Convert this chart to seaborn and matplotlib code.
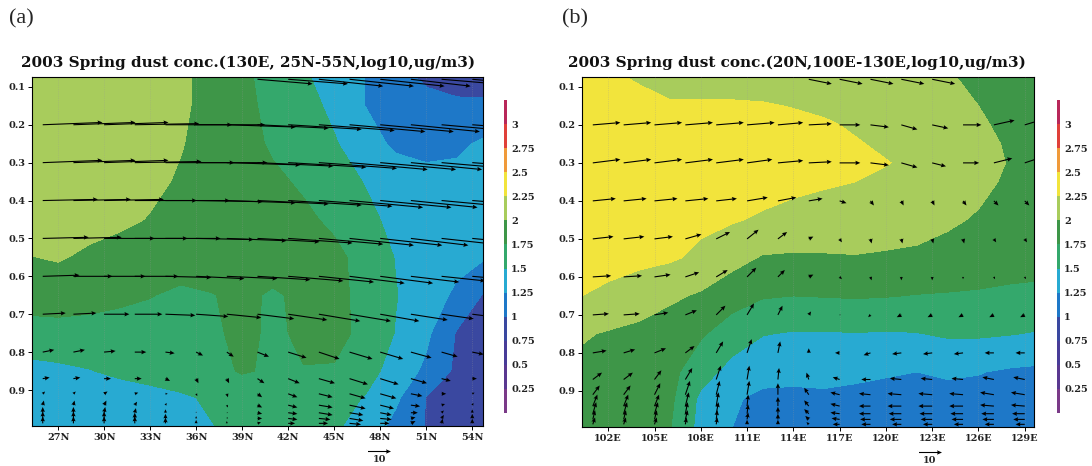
import numpy as np
import matplotlib
matplotlib.use("Agg")
import matplotlib.pyplot as plt
from matplotlib.colors import ListedColormap, BoundaryNorm
import seaborn as sns

sns.set_theme(style="white")
plt.rcParams["font.family"] = ["DejaVu Serif", "DejaVu Sans"]

# ---------------- data ----------------
level_bounds = [0, 0.25, 0.5, 0.75, 1.0, 1.25, 1.5, 1.75, 2.0, 2.25, 2.5, 2.75, 3.0, 3.25]
band_colors = ["#7a3a88", "#5a3890", "#483c98", "#3a48a0", "#1e78c8", "#28aad2",
               "#34a86c", "#3e9648", "#a8cc5c", "#f2e43c", "#f09a3a", "#e0403a", "#b8285a"]
cbar_ticks = [0.25, 0.5, 0.75, 1, 1.25, 1.5, 1.75, 2, 2.25, 2.5, 2.75, 3]
cbar_labels = ["0.25", "0.5", "0.75", "1", "1.25", "1.5", "1.75", "2", "2.25", "2.5", "2.75", "3"]
sigma_ticks = [0.1, 0.2, 0.3, 0.4, 0.5, 0.6, 0.7, 0.8, 0.9]
sigma_ticklabels = ["0.1", "0.2", "0.3", "0.4", "0.5", "0.6", "0.7", "0.8", "0.9"]

title_a = "2003 Spring dust conc.(130E, 25N-55N,log10,ug/m3)"
title_b = "2003 Spring dust conc.(20N,100E-130E,log10,ug/m3)"
lat_ticks = [27, 30, 33, 36, 39, 42, 45, 48, 51, 54]
lat_ticklabels = ["27N", "30N", "33N", "36N", "39N", "42N", "45N", "48N", "51N", "54N"]
lon_ticks = [102, 105, 108, 111, 114, 117, 120, 123, 126, 129]
lon_ticklabels = ["102E", "105E", "108E", "111E", "114E", "117E", "120E", "123E", "126E", "129E"]

# panel (a): concentration (log10 ug/m3) on latitude x sigma grid
lat_a = [25, 27, 29, 31, 33, 35, 37, 39, 41, 43, 45, 47, 49, 51, 53, 55]
sig_a = [0.07, 0.15, 0.25, 0.35, 0.45, 0.55, 0.65, 0.75, 0.85, 0.92, 1.0]
conc_a = [
    [2.15, 2.15, 2.14, 2.12, 2.09, 2.04, 1.93, 1.80, 1.66, 1.53, 1.39, 1.25, 1.08, 0.95, 0.88, 0.85],
    [2.15, 2.15, 2.14, 2.12, 2.08, 2.03, 1.94, 1.81, 1.69, 1.58, 1.45, 1.25, 1.15, 1.08, 1.05, 1.05],
    [2.15, 2.15, 2.13, 2.10, 2.05, 2.01, 1.93, 1.83, 1.72, 1.62, 1.52, 1.37, 1.20, 1.15, 1.20, 1.30],
    [2.15, 2.14, 2.12, 2.08, 2.04, 1.98, 1.92, 1.85, 1.79, 1.72, 1.60, 1.49, 1.40, 1.35, 1.33, 1.35],
    [2.12, 2.10, 2.08, 2.04, 1.99, 1.95, 1.91, 1.87, 1.83, 1.79, 1.71, 1.56, 1.44, 1.38, 1.36, 1.35],
    [1.99, 2.02, 1.96, 1.92, 1.89, 1.88, 1.88, 1.88, 1.87, 1.85, 1.80, 1.68, 1.49, 1.41, 1.33, 1.25],
    [1.85, 1.86, 1.84, 1.80, 1.76, 1.70, 1.74, 1.80, 1.72, 1.80, 1.80, 1.70, 1.51, 1.38, 1.20, 0.95],
    [1.66, 1.67, 1.66, 1.65, 1.64, 1.65, 1.70, 1.82, 1.70, 1.80, 1.82, 1.69, 1.49, 1.30, 0.98, 0.85],
    [1.42, 1.45, 1.49, 1.54, 1.58, 1.62, 1.68, 1.77, 1.72, 1.74, 1.73, 1.60, 1.40, 1.20, 0.95, 0.82],
    [1.35, 1.36, 1.38, 1.40, 1.43, 1.47, 1.53, 1.60, 1.63, 1.63, 1.58, 1.49, 1.30, 0.99, 0.85, 0.80],
    [1.35, 1.36, 1.37, 1.39, 1.42, 1.45, 1.49, 1.55, 1.58, 1.57, 1.53, 1.40, 1.17, 0.99, 0.85, 0.80],
]

# panel (b): concentration on longitude x sigma grid
lon_b = [100, 102, 104, 106, 108, 110, 112, 114, 116, 118, 120, 122, 124, 126, 128, 130]
sig_b = [0.07, 0.15, 0.2, 0.25, 0.3, 0.35, 0.45, 0.55, 0.65, 0.75, 0.85, 0.92, 1.0]
conc_b = [
    [2.32, 2.28, 2.22, 2.17, 2.14, 2.13, 2.12, 2.12, 2.12, 2.11, 2.09, 2.06, 2.02, 1.94, 1.88, 1.85],
    [2.40, 2.37, 2.32, 2.27, 2.28, 2.28, 2.27, 2.24, 2.20, 2.16, 2.13, 2.10, 2.06, 2.00, 1.92, 1.87],
    [2.42, 2.42, 2.40, 2.38, 2.37, 2.36, 2.34, 2.31, 2.28, 2.22, 2.17, 2.13, 2.09, 2.03, 1.95, 1.88],
    [2.42, 2.42, 2.42, 2.41, 2.40, 2.39, 2.37, 2.34, 2.31, 2.27, 2.21, 2.16, 2.11, 2.05, 1.98, 1.90],
    [2.42, 2.42, 2.42, 2.41, 2.40, 2.39, 2.38, 2.35, 2.32, 2.29, 2.26, 2.20, 2.14, 2.07, 1.99, 1.90],
    [2.42, 2.42, 2.41, 2.40, 2.39, 2.37, 2.34, 2.31, 2.28, 2.25, 2.20, 2.15, 2.10, 2.05, 1.97, 1.90],
    [2.42, 2.40, 2.37, 2.33, 2.30, 2.27, 2.22, 2.17, 2.13, 2.10, 2.08, 2.06, 2.03, 1.98, 1.90, 1.85],
    [2.38, 2.35, 2.32, 2.28, 2.20, 2.08, 1.98, 1.97, 1.98, 1.99, 1.98, 1.97, 1.93, 1.89, 1.86, 1.84],
    [2.26, 2.19, 2.10, 2.04, 1.97, 1.86, 1.77, 1.75, 1.76, 1.77, 1.76, 1.74, 1.73, 1.72, 1.70, 1.69],
    [2.03, 1.98, 1.95, 1.88, 1.78, 1.62, 1.51, 1.48, 1.48, 1.49, 1.48, 1.49, 1.53, 1.53, 1.51, 1.48],
    [1.95, 1.92, 1.88, 1.82, 1.60, 1.42, 1.33, 1.31, 1.30, 1.29, 1.27, 1.25, 1.27, 1.26, 1.22, 1.20],
    [1.94, 1.92, 1.88, 1.80, 1.45, 1.28, 1.20, 1.20, 1.22, 1.20, 1.18, 1.18, 1.20, 1.18, 1.17, 1.15],
    [1.92, 1.90, 1.86, 1.76, 1.42, 1.25, 1.18, 1.15, 1.15, 1.15, 1.15, 1.15, 1.15, 1.14, 1.14, 1.12],
]

# wind (m/s; vertical component shown positive upward) on model levels
sig_w = [0.08, 0.2, 0.3, 0.4, 0.5, 0.6, 0.7, 0.8, 0.87, 0.91, 0.94, 0.96, 0.975, 0.988]
nan = np.nan
lat_w_a = [26, 28, 30, 32, 34, 36, 38, 40, 42, 44, 46, 48, 50, 52, 54]
u_a = [
    [nan, nan, nan, nan, nan, nan, nan, 24, 26, 28, 28, 28, 26, 24, 22],
    [26, 27, 28, 28, 29, 30, 30, 31, 32, 33, 33, 32, 30, 28, 26],
    [26, 27, 28, 29, 30, 31, 32, 33, 34, 34, 34, 33, 31, 29, 27],
    [24, 25, 26, 27, 28, 29, 30, 31, 32, 32, 32, 31, 29, 27, 25],
    [20, 21, 22, 23, 24, 25, 26, 27, 28, 28, 28, 27, 25, 23, 21],
    [16, 17, 18, 19, 20, 21, 22, 23, 24, 24, 24, 23, 21, 19, 17],
    [10, 10, 11, 12, 13, 14, 15, 16, 17, 18, 18, 17, 16, 14, 12],
    [5, 5, 5, 5, 4, 3, 3, 5, 8, 9, 10, 10, 9, 7, 5],
    [3, 3, 3, 3, 2, 1, 1, 3, 5, 7, 8, 8, 7, 4, 2],
    [1, 1, 1.5, 1.5, 1, 0.5, 0.5, 2, 4, 6, 7, 7, 5, 2, 1],
    [0.5, 0.5, 1, 1, 0.5, 0, 0.5, 2, 4, 6, 7, 6, 4, 1.5, 0.5],
    [0, 0, 0.5, 0.5, 0, 0, 0.5, 2, 4, 6, 6, 5, 3, 1, 0],
    [0, 0, 0, 0, 0, 0, 0.5, 2, 4, 5, 6, 5, 2, 1, 0],
    [0, 0, 0, 0, 0, 0, 0, 1.5, 3, 4, 5, 4, 2, 0.5, 0],
]
w_a = [
    [nan, nan, nan, nan, nan, nan, nan, -2, -2, -3, -3, -3, -3, -2, -2],
    [1, 1, 1, 0.5, 0, 0, -1, -1.5, -2, -2.5, -3, -3, -3, -2.5, -2],
    [1, 1, 1, 0.5, 0, 0, -1, -1.5, -2, -2.5, -3, -3, -3, -2.5, -2],
    [0.5, 0.5, 0.5, 0, 0, -0.5, -1, -1.5, -2, -2.5, -3, -3, -3, -2.5, -2],
    [0.5, 0.5, 0, 0, 0, -0.5, -1, -1.5, -2, -2.5, -3, -3, -3, -2.5, -2],
    [0.5, 0, 0, 0, -0.5, -1, -1, -1.5, -2, -2.5, -3, -3, -2.5, -2, -1.5],
    [0.5, 0.5, 0, 0, -0.5, -1, -1.5, -2, -2.5, -3, -3, -3, -2.5, -2, -1.5],
    [1, 1, 0.5, 0, -0.5, -1.5, -2, -2, -2.5, -3, -3, -3, -2.5, -2, -1],
    [0.5, 0.5, 0, 0, -1, -2, -2, -2, -2, -2, -2.5, -2.5, -2, -1, 0],
    [1, 1, 1, 0.5, 0, -1, -1.5, -1.5, -1.5, -1.5, -2, -2, -1, 0, 0.5],
    [2, 2, 2, 1.5, 1, 0, -1, -1, -1, -1, -1.5, -1.5, -0.5, 0.5, 1],
    [2.5, 2.5, 2.5, 2, 1.5, 0.5, 0, -0.5, -0.5, -1, -1, -1, 0, 1, 1.5],
    [3, 3, 3, 2.5, 2, 1, 0.5, 0, -0.5, -0.5, -1, -0.5, 0.5, 1.5, 2],
    [3, 3, 3, 3, 2.5, 1.5, 1, 0.5, 0, 0, -0.5, 0, 1, 2, 2],
]
lon_w_b = [101, 103, 105, 107, 109, 111, 113, 115, 117, 119, 121, 123, 125, 127, 129]
u_b = [
    [nan, nan, nan, nan, nan, nan, nan, 10, 10, 10, 10, 10, nan, nan, nan],
    [12, 12, 12, 12, 12, 12, 11, 10, 9, 8, 7, 7, 8, 9, 10],
    [12, 12, 12, 12, 12, 11, 11, 10, 9, 8, 7, 6, 7, 8, 9],
    [10, 10, 10, 10, 9, 9, 8, 6, 3, 1.5, 1, 1, 1.5, 2, 2],
    [9, 9, 8, 7, 6, 5, 4, 2, 1, 0.5, 0.5, 0.5, 0.5, 1, 1],
    [8, 8, 7, 6, 5, 4, 3, 2, 1, 0.5, 0, 0, 0, 0.5, 0.5],
    [7, 7, 6, 5, 4, 3, 2, 1, 0.5, -1, -2, -2, -2, -2, -2],
    [6, 5, 5, 4, 3, 2, 1, 0, -2, -3, -4, -4, -4, -4, -4],
    [4, 4, 3, 3, 2, 1, 0.5, -1, -3, -4, -5, -5, -5, -5, -5],
    [3, 3, 2.5, 2, 1.5, 1, 0, -2, -4, -5, -6, -6, -6, -6, -6],
    [2, 2, 2, 1.5, 1, 0.5, 0, -2, -4, -5, -6, -6, -6, -6, -6],
    [1.5, 1.5, 1.5, 1, 1, 0.5, 0, -2, -4, -5, -5.5, -5.5, -5.5, -5.5, -5.5],
    [1, 1, 1, 1, 0.5, 0.5, 0, -1.5, -3.5, -4.5, -5, -5, -5, -5, -5],
    [1, 1, 1, 0.5, 0.5, 0, 0, -1, -3, -4, -4, -4, -4, -4, -4],
]
w_b = [
    [nan, nan, nan, nan, nan, nan, nan, -2, -2, -2, -2, -2, nan, nan, nan],
    [1, 1, 1, 1, 1, 1, 1, 0.5, 0, -1, -2, -1.5, 0, 2, 3],
    [1.5, 1.5, 1.5, 1.5, 1.5, 1.5, 1, 0.5, 0, -1, -2, -1.5, 0, 2, 3],
    [1, 1, 1, 1, 1, 1.5, 1.5, 1, -1, -2, -2, -2, -2, -2, -2],
    [1, 1, 1, 2, 3, 4, 3, 1, -1.5, -2, -2, -2, -2, -1.5, -1.5],
    [0.5, 0.5, 1, 2, 3, 4, 3, 1, -1, -1.5, -1.5, -1.5, -1, -1, -1],
    [0.5, 0.5, 1, 2, 4, 5, 4, 1.5, 0, -1, -1, -1, -1, -1, -1],
    [1, 1.5, 2, 3, 5, 6, 5, 2, 0, -1, -0.5, -0.5, -0.5, 0, 0],
    [3, 3, 4, 5, 6, 6, 5, 3, 1, 0, 0.5, 0.5, 0.5, 1, 1],
    [4, 4, 5, 6, 6, 6, 5, 3, 1, 0.5, 0.5, 0.5, 0.5, 1, 1],
    [5, 5, 5, 6, 6, 5, 4, 2.5, 1, 0, 0, 0, 0, 0.5, 0.5],
    [5, 5, 5, 5, 5, 4, 3, 2, 0.5, 0, 0, 0, 0, 0, 0],
    [4, 4, 4, 4, 4, 3, 2.5, 1.5, 0.5, 0, 0, 0, 0, 0, 0],
    [3, 3, 3, 3, 3, 2, 2, 1, 0, 0, 0, 0, 0, 0, 0],
]
key_speed = 10

# ---------------- figure ----------------
cmap = ListedColormap(sns.color_palette(band_colors))

fig = plt.figure(figsize=(10.92, 4.66), dpi=100)
fig.patch.set_facecolor("white")

H = 466.0
W = 1092.0
def box(x0, y0, x1, y1):
    return [x0 / W, 1 - y1 / H, (x1 - x0) / W, (y1 - y0) / H]

ax_a = fig.add_axes(box(32, 77, 483, 426))
ax_b = fig.add_axes(box(582, 77, 1034, 427))
cax_a = fig.add_axes(box(504, 100, 507, 413))
cax_b = fig.add_axes(box(1057, 100, 1060, 413))

tick_font = dict(size=7, weight="bold")

def draw_panel(ax, cax, xg, sg, conc, xw, uu, ww, xlim, xticks, xticklabels, title, title_x):
    norm = BoundaryNorm(level_bounds, cmap.N)
    X, S = np.meshgrid(xg, sg)
    cf = ax.contourf(X, S, np.array(conc), levels=level_bounds, cmap=cmap, norm=norm, zorder=1)
    XW, SW = np.meshgrid(xw, sig_w)
    q = ax.quiver(XW, SW, np.array(uu, dtype=float), np.array(ww, dtype=float),
                  angles="uv", scale_units="inches", scale=43.5, units="dots",
                  width=1.1, headwidth=4, headlength=4.5, headaxislength=4,
                  minlength=0, color="black", zorder=3)
    ax.set_xlim(*xlim)
    ax.set_ylim(0.995, 0.074)
    ax.set_xticks(xticks)
    ax.set_xticklabels(xticklabels, fontdict=tick_font)
    ax.set_yticks(sigma_ticks)
    ax.set_yticklabels(sigma_ticklabels, fontdict=tick_font)
    ax.tick_params(axis="both", direction="out", length=3, width=0.7, color="black",
                   pad=2, bottom=True, left=True, labelcolor="#222222")
    ax.xaxis.grid(True, linestyle=":", color="#999999", linewidth=0.5, alpha=0.5)
    ax.yaxis.grid(False)
    ax.set_axisbelow(False)
    for sp in ax.spines.values():
        sp.set_color("black")
        sp.set_linewidth(0.8)
    ax.text(title_x, 1.02, title, transform=ax.transAxes, ha="center", va="bottom",
            fontsize=11, fontweight="bold", color="#111111")
    ax.quiverkey(q, 0.77, -0.072, key_speed, "10", labelpos="S", coordinates="axes",
                 labelsep=0.04, fontproperties={"size": 7, "weight": "bold"})
    cb = fig.colorbar(cf, cax=cax)
    return cb

cb_a = draw_panel(ax_a, cax_a, lat_a, sig_a, conc_a, lat_w_a, u_a, w_a, (25.3, 54.7),
                  lat_ticks, lat_ticklabels, title_a, 0.48)
cb_b = draw_panel(ax_b, cax_b, lon_b, sig_b, conc_b, lon_w_b, u_b, w_b, (100.3, 129.6),
                  lon_ticks, lon_ticklabels, title_b, 0.475)

for cb in (cb_a, cb_b):
    cb.set_ticks(cbar_ticks, labels=cbar_labels)
    cb.minorticks_off()
    for lab in cb.ax.get_yticklabels():
        lab.set_fontsize(7)
        lab.set_fontweight("bold")
        lab.set_color("#222222")
    cb.ax.tick_params(which="both", length=0, pad=3)
    cb.outline.set_visible(False)

fig.text(9 / W, 1 - 19 / H, "(a)", fontsize=16, family="Liberation Serif", va="center", ha="left")
fig.text(562 / W, 1 - 19 / H, "(b)", fontsize=16, family="Liberation Serif", va="center", ha="left")

fig.savefig("out.png", dpi=100)
